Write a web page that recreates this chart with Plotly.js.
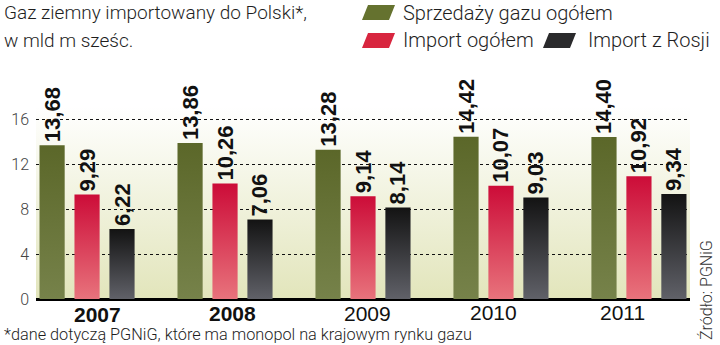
<!DOCTYPE html>
<html><head><meta charset="utf-8">
<script src="https://cdn.plot.ly/plotly-3.0.1.min.js"></script>
<style>html,body{margin:0;padding:0;background:#fff}#chart{width:720px;height:345px}</style>
</head><body><div id="chart"></div>
<script>
// ---- data ----
const years = ['2007', '2008', '2009', '2010', '2011'];
const sales = [13.68, 13.86, 13.28, 14.42, 14.40];
const importTotal = [9.29, 10.26, 9.14, 10.07, 10.92];
const importRussia = [6.22, 7.06, 8.14, 9.03, 9.34];
const seriesNames = ['Sprzedaży gazu ogółem', 'Import ogółem', 'Import z Rosji'];
const yTicks = [0, 4, 8, 12, 16];
const titleLines = ['Gaz ziemny importowany do Polski*,', 'w mld m sześc.'];
const footnote = '*dane dotyczą PGNiG, które ma monopol na krajowym rynku gazu';
const source = 'Źródło: PGNiG';

// ---- layout geometry (pixels) ----
const L = 36, R = 30, T = 80, B = 46, W = 720 - L - R, H = 345 - T - B;
const px = x => (x - L) / W;
const py = y => (T + H - y) / H;
const yearLabelX = [97, 232, 367, 494, 622];
const yearLabelY = [314, 313, 313, 312, 312];
const yearWeights = ['bold', 'bold', 'normal', 'normal', 'normal'];

const fmt = v => v.toFixed(2).replace('.', ',');
const solid = ['#65722f', '#d8263f', '#2a2a2c'];
const gradIds = ['gGreen', 'gRed', 'gBlack'];

const labelFont = {family: 'Liberation Sans, Arial, sans-serif', size: 22, color: '#111', weight: 'bold'};
const lightFont = (size, color) => ({family: 'Roboto, Liberation Sans, sans-serif', size: size, color: color || '#222', weight: 300});

const traces = [sales, importTotal, importRussia].map((vals, i) => ({
  type: 'bar',
  name: seriesNames[i],
  x: years,
  y: vals,
  text: vals.map(fmt),
  textposition: 'outside',
  textangle: -90,
  constraintext: 'none',
  cliponaxis: false,
  textfont: labelFont,
  marker: {color: solid[i], line: {width: 0}},
  hoverinfo: 'none'
}));

const annotations = [];
titleLines.forEach((t, i) => annotations.push({
  text: t, xref: 'paper', yref: 'paper', x: px(2), y: py([12, 40][i]),
  xanchor: 'left', yanchor: 'middle', showarrow: false, font: lightFont(19, '#1e1e1e')
}));
const legendPos = [[401, 13], [401, 40], [586, 40]];
seriesNames.forEach((n, i) => annotations.push({
  text: n, xref: 'paper', yref: 'paper', x: px(legendPos[i][0]), y: py(legendPos[i][1]),
  xanchor: 'left', yanchor: 'middle', showarrow: false, font: lightFont(20, '#1e1e1e')
}));
years.forEach((yr, i) => annotations.push({
  text: yr, xref: 'paper', yref: 'paper', x: px(yearLabelX[i]), y: py(yearLabelY[i]),
  xanchor: 'center', yanchor: 'middle', showarrow: false,
  font: {family: 'Liberation Sans, Arial, sans-serif', size: 21, color: '#111', weight: yearWeights[i]}
}));
annotations.push({
  text: footnote, xref: 'paper', yref: 'paper', x: px(2), y: py(334.5),
  xanchor: 'left', yanchor: 'middle', showarrow: false, font: lightFont(16.3, '#1e1e1e')
});
annotations.push({
  text: source, xref: 'paper', yref: 'paper', x: px(706), y: py(290),
  xanchor: 'center', yanchor: 'middle', textangle: -90, showarrow: false, font: lightFont(16, '#333')
});

// legend swatches (skewed rounded parallelograms)
const swatch = (x0, y0, x1, y1) => {
  const s = 3;
  return 'M' + px(x0 + s) + ',' + py(y0) + ' L' + px(x1 + s) + ',' + py(y0) +
         ' L' + px(x1 - s) + ',' + py(y1) + ' L' + px(x0 - s) + ',' + py(y1) + ' Z';
};
const swatchBoxes = [[365, 5, 392, 20], [365, 33, 392, 48], [546, 33, 573, 48]];
const shapes = swatchBoxes.map((b, i) => ({
  type: 'path', xref: 'paper', yref: 'paper', path: swatch(...b),
  fillcolor: solid[i], line: {width: 0}
}));

const layout = {
  width: 720, height: 345,
  margin: {l: L, r: R, t: T, b: B, pad: 0},
  paper_bgcolor: '#ffffff',
  plot_bgcolor: '#f2f3df',
  separators: ',.',
  showlegend: false,
  barmode: 'group',
  bargap: 0.24,
  bargroupgap: 0.28,
  font: {family: 'Roboto, Liberation Sans, sans-serif'},
  xaxis: {
    type: 'category', range: [-0.37, 4.37], showticklabels: false,
    showgrid: false, zeroline: false, showline: false, ticks: '', fixedrange: true
  },
  yaxis: {
    range: [0, 19.47], tickvals: yTicks, ticktext: yTicks.map(String),
    showgrid: true, gridcolor: '#111', gridwidth: 1, griddash: '3px,3px',
    zeroline: true, zerolinecolor: '#000', zerolinewidth: 3,
    showline: false, ticks: '', ticklabelstandoff: 6,
    tickfont: lightFont(16, '#444'), fixedrange: true
  },
  annotations: annotations,
  shapes: shapes
};

const gd = document.getElementById('chart');
Plotly.newPlot(gd, traces, layout, {displayModeBar: false, staticPlot: true}).then(() => {
  const ns = 'http://www.w3.org/2000/svg';
  const svg = gd.querySelector('svg.main-svg');
  const defs = document.createElementNS(ns, 'defs');
  svg.insertBefore(defs, svg.firstChild);
  const addGrad = (id, stops) => {
    const g = document.createElementNS(ns, 'linearGradient');
    g.setAttribute('id', id);
    g.setAttribute('x1', '0'); g.setAttribute('y1', '0');
    g.setAttribute('x2', '0'); g.setAttribute('y2', '1');
    stops.forEach(([o, c]) => {
      const s = document.createElementNS(ns, 'stop');
      s.setAttribute('offset', o); s.setAttribute('stop-color', c);
      g.appendChild(s);
    });
    defs.appendChild(g);
  };
  addGrad('gGreen', [[0, '#5b6729'], [1, '#76824a']]);
  addGrad('gRed', [[0, '#cc0c38'], [1, '#e8737c']]);
  addGrad('gBlack', [[0, '#131313'], [1, '#606168']]);
  addGrad('gBg', [[0, '#ffffff'], [0.12, '#ffffff'], [1, '#e2e5bb']]);
  gd.querySelectorAll('.barlayer .trace').forEach((tr, i) => {
    tr.querySelectorAll('.point path').forEach(p => { p.style.fill = 'url(#' + gradIds[i] + ')'; });
  });
  const bg = gd.querySelector('.bglayer rect.bg');
  if (bg) bg.style.fill = 'url(#gBg)';
});
</script>
</body></html>
